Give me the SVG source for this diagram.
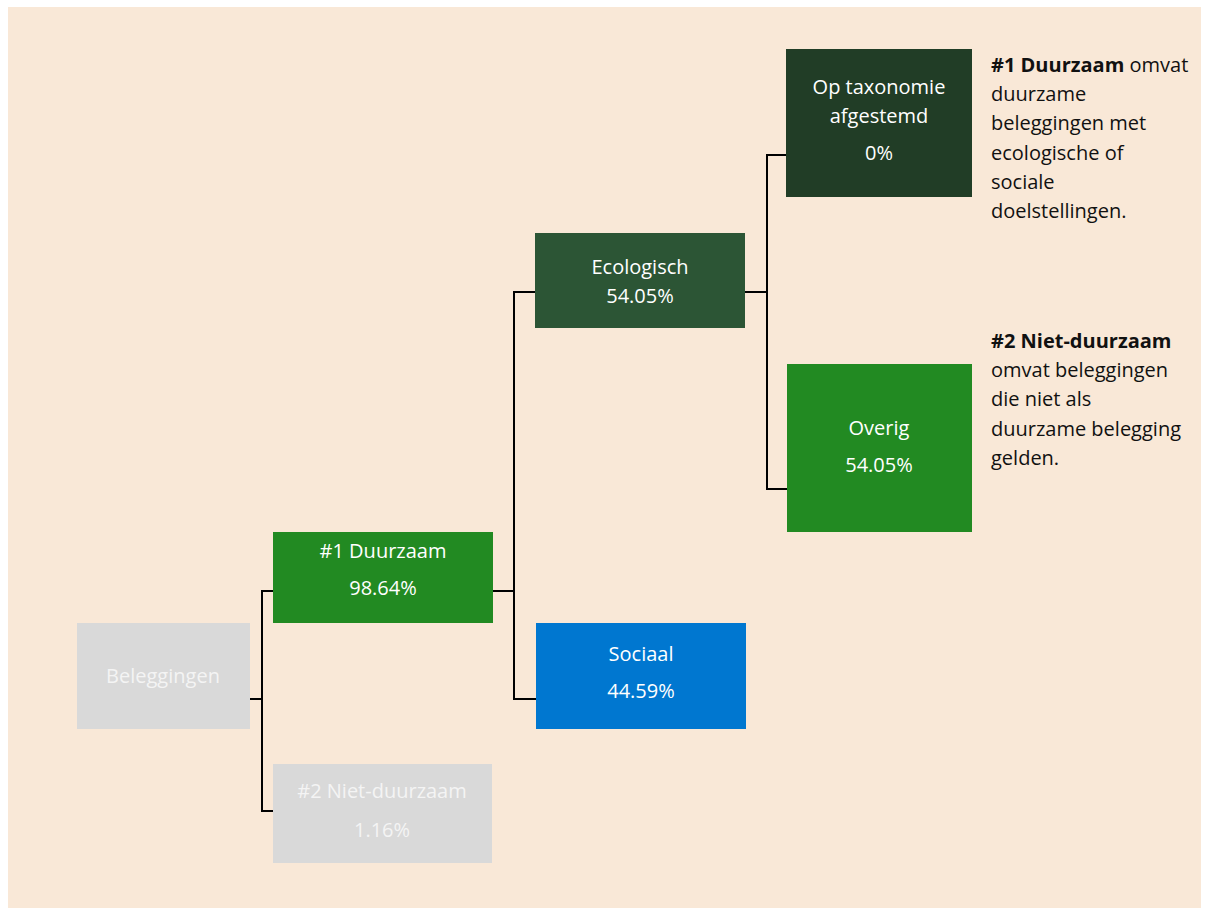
<svg xmlns="http://www.w3.org/2000/svg" width="1209" height="909" viewBox="0 0 1209 909">
<style>
.t{font-family:"Open Sans","Liberation Sans",Arial,sans-serif;font-size:20px;fill:#ffffff;text-anchor:middle}
.g{fill:#f4f4f4}
.d{font-family:"Open Sans","Liberation Sans",Arial,sans-serif;font-size:20px;fill:#111111}
.b{font-weight:bold}
.c{fill:none;stroke:#000000;stroke-width:2}
</style>
<rect x="0" y="0" width="1209" height="909" fill="#ffffff"/>
<rect x="8" y="7" width="1193" height="901" fill="#F9E8D7"/>
<g id="connectors">
<polyline class="c" points="250,699 262,699"/>
<polyline class="c" points="273,591 262,591 262,811 273,811"/>
<polyline class="c" points="493,591 514,591"/>
<polyline class="c" points="535,292 514,292 514,699 536,699"/>
<polyline class="c" points="745,292 767,292"/>
<polyline class="c" points="786,155 767,155 767,489 787,489"/>
</g>
<g id="beleggingen">
<rect x="77" y="623" width="173" height="106" fill="#D9D9D9"/>
<text class="t g" x="163" y="683">Beleggingen</text>
</g>
<g id="duurzaam">
<rect x="273" y="532" width="220" height="91" fill="#228A22"/>
<text class="t" x="383" y="558">#1 Duurzaam</text>
<text class="t" x="383" y="595">98.64%</text>
</g>
<g id="niet-duurzaam">
<rect x="273" y="764" width="219" height="99" fill="#D9D9D9"/>
<text class="t g" x="382" y="798">#2 Niet-duurzaam</text>
<text class="t g" x="382" y="837">1.16%</text>
</g>
<g id="ecologisch">
<rect x="535" y="233" width="210" height="95" fill="#2C5535"/>
<text class="t" x="640" y="274">Ecologisch</text>
<text class="t" x="640" y="303">54.05%</text>
</g>
<g id="sociaal">
<rect x="536" y="623" width="210" height="106" fill="#0077D0"/>
<text class="t" x="641" y="661">Sociaal</text>
<text class="t" x="641" y="698">44.59%</text>
</g>
<g id="taxonomie">
<rect x="786" y="49" width="186" height="148" fill="#213D26"/>
<text class="t" x="879" y="94">Op taxonomie</text>
<text class="t" x="879" y="123">afgestemd</text>
<text class="t" x="879" y="160">0%</text>
</g>
<g id="overig">
<rect x="787" y="364" width="185" height="168" fill="#228A22"/>
<text class="t" x="879" y="435">Overig</text>
<text class="t" x="879" y="472">54.05%</text>
</g>
<g id="legend1">
<text class="d" x="991" y="72"><tspan class="b">#1 Duurzaam</tspan> omvat</text>
<text class="d" x="991" y="101">duurzame</text>
<text class="d" x="991" y="130">beleggingen met</text>
<text class="d" x="991" y="160">ecologische of</text>
<text class="d" x="991" y="189">sociale</text>
<text class="d" x="991" y="218">doelstellingen.</text>
</g>
<g id="legend2">
<text class="d b" x="991" y="348">#2 Niet-duurzaam</text>
<text class="d" x="991" y="377">omvat beleggingen</text>
<text class="d" x="991" y="406">die niet als</text>
<text class="d" x="991" y="436">duurzame belegging</text>
<text class="d" x="991" y="465">gelden.</text>
</g>
</svg>
